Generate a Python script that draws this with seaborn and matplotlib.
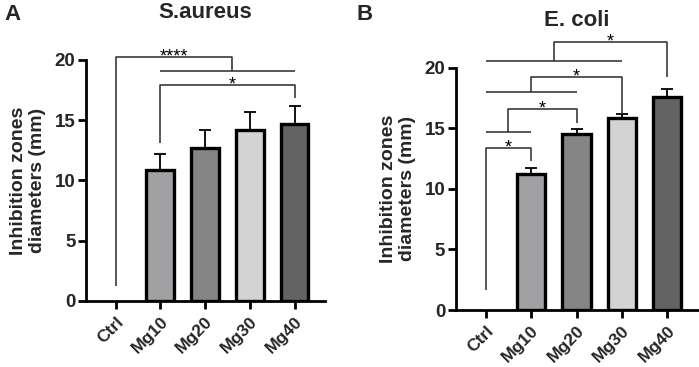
import matplotlib
matplotlib.use("Agg")
import matplotlib.pyplot as plt
import seaborn as sns
import pandas as pd
import numpy as np

categories = ["Ctrl", "Mg10", "Mg20", "Mg30", "Mg40"]
colors = ["#ffffff", "#a0a0a5", "#858585", "#d3d3d3", "#636363"]

saureus_mean = [0.0, 10.9, 12.7, 14.15, 14.7]
saureus_sd = [0.0, 1.3, 1.45, 1.5, 1.5]

ecoli_mean = [0.0, 11.25, 14.55, 15.8, 17.55]
ecoli_sd = [0.0, 0.45, 0.42, 0.35, 0.72]

yticks = [0, 5, 10, 15, 20]

sns.set_style("white")
plt.rcParams["font.family"] = ["Liberation Sans", "DejaVu Sans"]
plt.rcParams["font.weight"] = "bold"

fig = plt.figure(figsize=(6.99, 3.67), dpi=100)
axA = fig.add_axes([0.123, 0.180, 0.342, 0.657])
axB = fig.add_axes([0.652, 0.155, 0.347, 0.661])

LINE_C = "#2a2a2a"


def draw_panel(ax, means, sds, title):
    df = pd.DataFrame({"cat": categories, "val": means})
    sns.barplot(data=df, x="cat", y="val", hue="cat", palette=colors,
                order=categories, hue_order=categories, legend=False,
                width=0.62, edgecolor="black", linewidth=2.4, errorbar=None,
                ax=ax, zorder=3)
    for p in ax.patches:
        if p.get_height() == 0:
            p.set_linewidth(0)
    xs = np.arange(len(categories))
    m = np.array(means)
    s = np.array(sds)
    mask = m > 0
    ax.errorbar(xs[mask], m[mask], yerr=[np.zeros(mask.sum()), s[mask]],
                fmt="none", ecolor="black", elinewidth=1.3, capsize=4.5,
                capthick=1.3, zorder=2)
    ax.set_ylim(0, 20)
    ax.set_xlim(-0.66, 4.68)
    ax.set_yticks(yticks)
    ax.set_yticklabels([str(t) for t in yticks], fontsize=13.5, fontweight="bold")
    ax.set_xticks(xs)
    ax.set_xticklabels(categories, rotation=45, ha="right",
                       rotation_mode="anchor", fontsize=12.5, fontweight="bold")
    ax.set_xlabel("")
    ax.set_ylabel("Inhibition zones\ndiameters (mm)", fontsize=14,
                  fontweight="bold", labelpad=6)
    ax.set_title(title, fontsize=16, fontweight="bold", pad=30)
    for sp in ["top", "right"]:
        ax.spines[sp].set_visible(False)
    for sp in ["left", "bottom"]:
        ax.spines[sp].set_linewidth(2.0)
        ax.spines[sp].set_color("black")
    ax.tick_params(axis="both", which="both", direction="out", length=5.5,
                   width=2.0, color="black", left=True, bottom=True)
    ax.tick_params(axis="y", pad=2)
    ax.tick_params(axis="x", pad=4)


def line(ax, xs, ys):
    ax.plot(xs, ys, color=LINE_C, lw=1.1, clip_on=False, zorder=5,
            solid_capstyle="butt")


def star(ax, x, y, s):
    ax.text(x, y, s, ha="center", va="baseline", fontsize=13,
            fontweight="normal", color="black", clip_on=False, zorder=6)


draw_panel(axA, saureus_mean, saureus_sd, "S.aureus")
draw_panel(axB, ecoli_mean, ecoli_sd, "E. coli")

# Panel A significance
iC, i10, i20, i30, i40 = range(5)
line(axA, [iC, iC, 2.6, 2.6], [1.2, 20.25, 20.25, 19.1])
line(axA, [i10, i40], [19.1, 19.1])
star(axA, 1.3, 19.85, "****")
line(axA, [i10, i10, i40, i40], [13.1, 17.9, 17.9, 16.8])
star(axA, 2.6, 17.5, "*")

# Panel B significance
line(axB, [iC, iC, i10, i10], [1.65, 13.4, 13.4, 12.3])
star(axB, 0.5, 13.0, "*")
line(axB, [iC, i10], [14.66, 14.66])
line(axB, [0.5, 0.5, i20, i20], [14.66, 16.58, 16.58, 15.4])
star(axB, 1.25, 16.2, "*")
line(axB, [iC, i20], [18.0, 18.0])
line(axB, [1.0, 1.0, i30, i30], [18.0, 19.25, 19.25, 16.2])
star(axB, 2.0, 18.85, "*")
line(axB, [iC, i30], [20.57, 20.57])
line(axB, [1.5, 1.5, i40, i40], [20.57, 22.1, 22.1, 19.25])
star(axB, 2.75, 21.7, "*")

fig.text(0.006, 0.988, "A", fontsize=16, fontweight="bold", va="top", ha="left")
fig.text(0.510, 0.990, "B", fontsize=16, fontweight="bold", va="top", ha="left")

fig.savefig("out.png", dpi=100)
